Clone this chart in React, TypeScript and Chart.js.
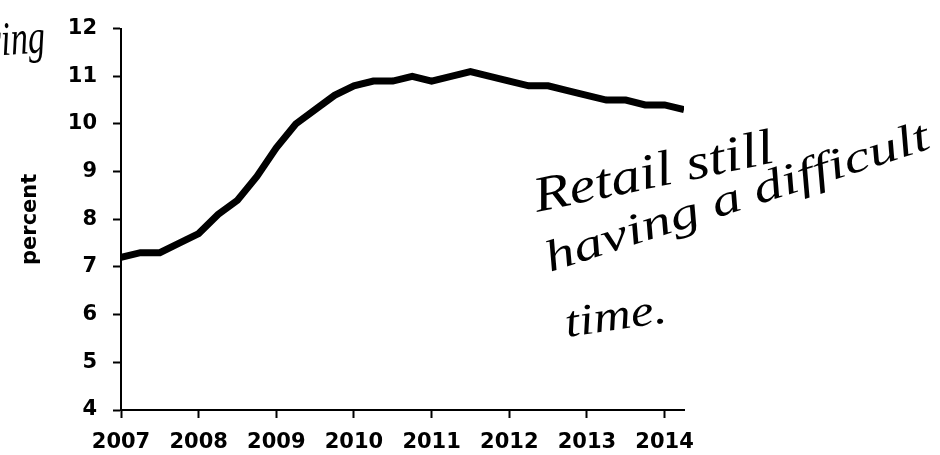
import React, { useEffect, useRef } from "react";
import { Chart, registerables } from "chart.js";

Chart.register(...registerables);

// Quarterly observations, 2007 Q1 – 2014 Q2
const quarters: number[] = [
  2007.0, 2007.25, 2007.5, 2007.75,
  2008.0, 2008.25, 2008.5, 2008.75,
  2009.0, 2009.25, 2009.5, 2009.75,
  2010.0, 2010.25, 2010.5, 2010.75,
  2011.0, 2011.25, 2011.5, 2011.75,
  2012.0, 2012.25, 2012.5, 2012.75,
  2013.0, 2013.25, 2013.5, 2013.75,
  2014.0, 2014.25,
];
const percentValues: number[] = [
  7.2, 7.3, 7.3, 7.5,
  7.7, 8.1, 8.4, 8.9,
  9.5, 10.0, 10.3, 10.6,
  10.8, 10.9, 10.9, 11.0,
  10.9, 11.0, 11.1, 11.0,
  10.9, 10.8, 10.8, 10.7,
  10.6, 10.5, 10.5, 10.4,
  10.4, 10.3,
];
const xTickYears: number[] = [2007, 2008, 2009, 2010, 2011, 2012, 2013, 2014];
const yTickValues: number[] = [4, 5, 6, 7, 8, 9, 10, 11, 12];
const yAxisTitle = "percent";
const notes: string[] = ["Retail still", "having a difficult", "time.", "hiring"];

const SANS = "'DejaVu Sans', 'Liberation Sans', Arial, sans-serif";
const TICK_FONT = { family: SANS, size: 21, weight: "bold" as const };
const HAND_FONT = "'Liberation Serif', 'DejaVu Serif', serif";

function drawHand(
  ctx: CanvasRenderingContext2D,
  text: string,
  x0: number,
  y0: number,
  x1: number,
  y1: number,
  size: number
) {
  ctx.save();
  ctx.font = `italic ${size}px ${HAND_FONT}`;
  ctx.fillStyle = "#000";
  ctx.textBaseline = "alphabetic";
  ctx.textAlign = "left";
  const w = ctx.measureText(text).width;
  const len = Math.hypot(x1 - x0, y1 - y0);
  const angle = Math.atan2(y1 - y0, x1 - x0);
  ctx.translate(x0, y0);
  ctx.rotate(angle);
  ctx.scale(len / w, 1);
  ctx.fillText(text, 0, 0);
  ctx.restore();
}

const handwriting = {
  id: "handwriting",
  afterDraw(chart: Chart) {
    const ctx = chart.ctx;
    drawHand(ctx, notes[0], 537, 212, 776, 162, 50);
    drawHand(ctx, notes[1], 550, 272, 932, 148, 44);
    drawHand(ctx, notes[2], 567, 337, 668, 322, 44);
    drawHand(ctx, notes[3], -38, 58, 46, 52, 48);
  },
};

export default function App() {
  const canvasRef = useRef<HTMLCanvasElement | null>(null);

  useEffect(() => {
    if (!canvasRef.current) return;
    const chart = new Chart(canvasRef.current, {
      type: "line",
      data: {
        datasets: [
          {
            data: quarters.map((q, i) => ({ x: q, y: percentValues[i] })),
            borderColor: "#000",
            borderWidth: 7,
            pointRadius: 0,
            tension: 0,
            fill: false,
          },
        ],
      },
      options: {
        animation: false,
        responsive: false,
        layout: { padding: { left: 0, right: 256, top: 19, bottom: 0 } },
        plugins: { legend: { display: false }, tooltip: { enabled: false }, title: { display: false } },
        scales: {
          x: {
            type: "linear",
            min: 2007,
            max: 2014.25,
            afterFit: (s: any) => {
              s.height = 45;
            },
            afterBuildTicks: (s: any) => {
              s.ticks = xTickYears.map((v) => ({ value: v }));
            },
            ticks: {
              color: "#000",
              font: TICK_FONT,
              padding: 12,
              autoSkip: false,
              maxRotation: 0,
              callback: (v: any) => String(v),
            },
            grid: {
              drawOnChartArea: false,
              drawTicks: true,
              tickLength: 8,
              tickWidth: 2,
              tickColor: "#000",
            },
            border: { display: true, color: "#000", width: 2 },
          },
          y: {
            min: 4,
            max: 12,
            afterFit: (s: any) => {
              s.width = 121;
            },
            afterBuildTicks: (s: any) => {
              s.ticks = yTickValues.map((v) => ({ value: v }));
            },
            ticks: {
              color: "#000",
              font: TICK_FONT,
              padding: 16,
              callback: (v: any) => String(v),
            },
            grid: {
              drawOnChartArea: false,
              drawTicks: true,
              tickLength: 8,
              tickWidth: 2,
              tickColor: "#000",
            },
            border: { display: true, color: "#000", width: 2 },
            title: {
              display: true,
              text: yAxisTitle,
              color: "#000",
              font: { family: SANS, size: 21, weight: "bold" },
              padding: { top: 18, bottom: 0 },
            },
          },
        },
      },
      plugins: [handwriting],
    });
    return () => chart.destroy();
  }, []);

  return (
    <div style={{ position: "fixed", left: 0, top: 0, width: 940, height: 455, background: "#fff" }}>
      <canvas ref={canvasRef} width={940} height={455} style={{ display: "block" }} />
    </div>
  );
}
